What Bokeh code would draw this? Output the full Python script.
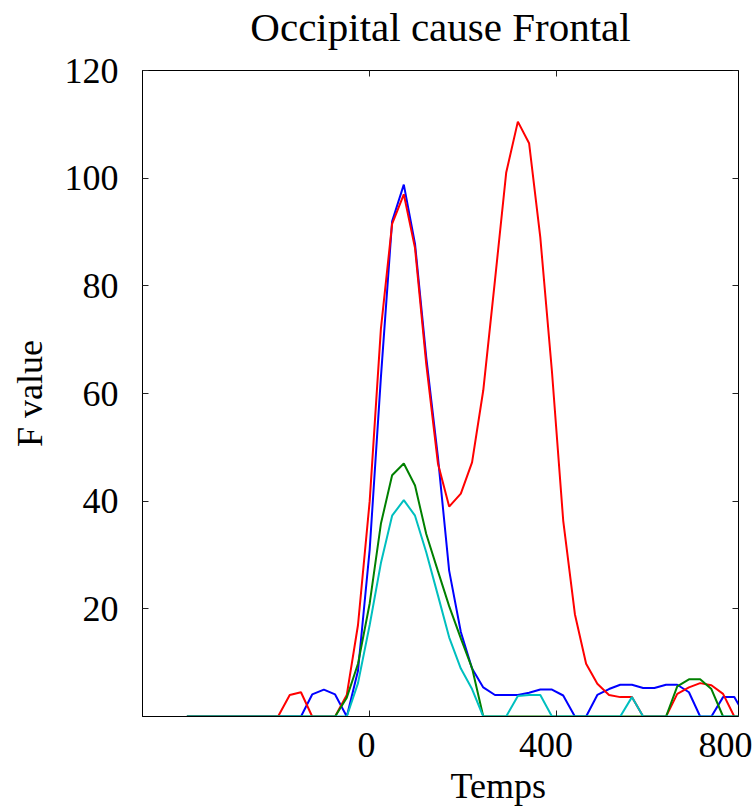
from bokeh.plotting import figure
from bokeh.models import LinearAxis, FixedTicker, Range1d, Title
from bokeh.embed import file_html
from bokeh.resources import INLINE

times = [-391, -367, -342, -318, -293, -269, -245, -220, -196, -171,
         -147, -123, -98, -74, -49, -25, 0, 24, 48, 73,
         97, 121, 146, 170, 195, 219, 243, 268, 292, 317,
         341, 365, 390, 414, 439, 463, 487, 512, 536, 561,
         585, 609, 634, 658, 683, 707, 731, 756, 780, 804]

f_red = [0, 0, 0, 0, 0, 0, 0, 0, 0, 4.0,
         4.5, 0, 0, 0, 4.0, 17, 40, 72, 91.5, 97,
         87, 65.5, 47, 39, 41.4, 47.2, 60.6, 81, 101, 110.5,
         106.5, 89, 64, 36.4, 19, 9.8, 6.1, 4.0, 3.6, 3.6,
         0, 0, 0, 4.2, 5.4, 6.2, 5.8, 4.2, 0, 0]

f_blue = [0, 0, 0, 0, 0, 0, 0, 0, 0, 0,
          0, 4.1, 5.0, 4.1, 0, 8.5, 31, 63, 92, 98.8,
          87.8, 66.7, 48.2, 27.1, 15.7, 8.9, 5.4, 4.0, 4.0, 4.0,
          4.4, 5.0, 5.0, 3.9, 0, 0, 4.0, 5.1, 5.9, 5.9,
          5.3, 5.3, 5.9, 5.9, 4.5, 0, 0, 3.6, 3.6, 0]

f_green = [0, 0, 0, 0, 0, 0, 0, 0, 0, 0,
           0, 0, 0, 0, 3.5, 9.8, 21, 35.8, 44.8, 47,
           42.9, 33.9, 27, 20.5, 14.5, 9, 0, 0, 0, 0,
           0, 0, 0, 0, 0, 0, 0, 0, 0, 0,
           0, 0, 0, 5.6, 6.9, 6.9, 5.1, 0, 0, 0]

f_cyan = [0, 0, 0, 0, 0, 0, 0, 0, 0, 0,
          0, 0, 0, 0, 0, 6.2, 17, 28.5, 37.3, 40.2,
          37.3, 30.5, 22.5, 14.7, 8.9, 5.1, 0, 0, 0, 3.8,
          4.0, 4.0, 0, 0, 0, 0, 0, 0, 0, 3.6,
          0, 0, 0, 0, 0, 0, 0, 0, 0, 0]

x_ticks = [0, 400]
x_tick_labels = [0, 400, 800]
y_ticks = [20, 40, 60, 80, 100, 120]

FONT = "Liberation Serif"

p = figure(width=756, height=812, output_backend="svg", toolbar_location=None,
           x_range=Range1d(-486, 789), y_range=Range1d(0, 120),
           x_axis_location=None,
           min_border_left=142, min_border_right=18,
           min_border_top=70, min_border_bottom=96)
# range used only to place the x tick labels as in the reference
p.extra_x_ranges = {"lab": Range1d(-499, 829)}

p.xgrid.visible = False
p.ygrid.visible = False
p.outline_line_color = "black"
p.background_fill_color = "white"
p.border_fill_color = "white"


def style_axis(ax, ticks, show_labels):
    ax.ticker = FixedTicker(ticks=ticks)
    ax.minor_tick_line_color = None
    ax.major_tick_in = 6
    ax.major_tick_out = 0
    ax.major_tick_line_color = "#222222"
    ax.axis_line_color = "black"
    ax.major_label_text_font = FONT
    ax.major_label_text_font_size = "36px"
    ax.major_label_text_color = "black"
    ax.axis_label_text_font = FONT
    ax.axis_label_text_font_size = "36px"
    ax.axis_label_text_font_style = "normal"
    ax.axis_label_text_color = "black"
    if not show_labels:
        ax.major_label_overrides = {t: "" for t in ticks}


ya = p.yaxis[0]
style_axis(ya, y_ticks, True)
ya.major_label_standoff = 24
ya.axis_label = "F value"
ya.axis_label_standoff = 12

# bottom tick marks (inside the frame)
xticks_axis = LinearAxis(fixed_location=0)
style_axis(xticks_axis, x_ticks, False)
p.add_layout(xticks_axis, "below")

# bottom tick labels
xlab_axis = LinearAxis(x_range_name="lab")
style_axis(xlab_axis, x_tick_labels, True)
xlab_axis.major_tick_in = 0
xlab_axis.major_tick_line_color = None
xlab_axis.major_label_standoff = 16
p.add_layout(xlab_axis, "below")

# x axis title, right of centre as in the reference
p.add_layout(Title(text="Temps", align="left", offset=308, standoff=8,
                   text_font=FONT, text_font_size="36px",
                   text_font_style="normal", text_color="black"), "below")

# top edge: tick marks plus the chart title
top = LinearAxis()
style_axis(top, x_ticks, False)
top.major_label_standoff = 0
top.axis_label = "Occipital cause Frontal"
top.axis_label_text_font_size = "41px"
top.axis_label_standoff = 21
p.add_layout(top, "above")

right = LinearAxis(fixed_location=789)
style_axis(right, y_ticks, False)
p.add_layout(right, "right")

p.line(times, f_blue, line_color="#0000ff", line_width=2)
p.line(times, f_red, line_color="#ff0000", line_width=2)
p.line(times, f_green, line_color="#008000", line_width=2)
p.line(times, f_cyan, line_color="#00bfbf", line_width=2)

open("out.html", "w").write(file_html(p, INLINE))
